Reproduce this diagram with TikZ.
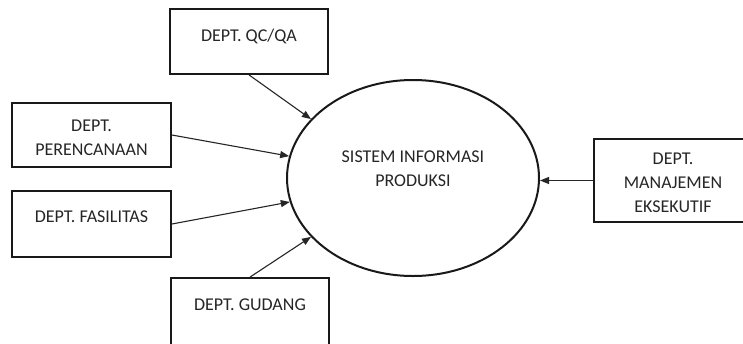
\documentclass[tikz,border=0pt]{standalone}
\usepackage{fontspec}
\setmainfont{Carlito}
\usetikzlibrary{shapes.geometric,arrows.meta}
\begin{document}
\begin{tikzpicture}[x=1pt,y=-1pt,
  dept/.style={draw=black!90,line width=1.8pt,rectangle,inner sep=0pt},
  lbl/.style={text=black!85,align=center,font=\fontsize{18}{24}\selectfont,inner sep=0pt},
  flow/.style={draw=black!85,line width=1.1pt,-{Triangle[length=9pt,width=7pt]}}]
\useasboundingbox (0,0) rectangle (743,343);
\clip (0,0) rectangle (743,343);
\fill[white] (0,0) rectangle (743,343);

% central process
\node[draw=black!90,line width=2pt,ellipse,minimum width=252pt,minimum height=196pt,inner sep=0pt] (sys) at (413,178) {};
\node[lbl] (systxt) at (413,169) {SISTEM INFORMASI\\PRODUKSI};

% external entities
\node[dept,minimum width=158pt,minimum height=65pt] (qc) at (249,41.5) {};
\node[lbl] (qctxt) at (249,36) {DEPT. QC/QA};

\node[dept,minimum width=159pt,minimum height=64pt] (per) at (91.5,135) {};
\node[lbl] (pertxt) at (91.5,138) {DEPT.\\PERENCANAAN};

\node[dept,minimum width=159pt,minimum height=66pt] (fas) at (91.5,224) {};
\node[lbl] (fastxt) at (91.5,217) {DEPT. FASILITAS};

\node[dept,minimum width=158pt,minimum height=70pt] (gud) at (250,313) {};
\node[lbl] (gudtxt) at (250,305) {DEPT. GUDANG};

\node[dept,minimum width=158pt,minimum height=83pt] (man) at (673,180.5) {};
\node[lbl] (mantxt) at (673,183) {DEPT.\\MANAJEMEN\\EKSEKUTIF};

% data flows
\draw[flow] (qc.south) -- (sys.150);
\draw[flow] (per.east) -- (sys.170);
\draw[flow] (fas.east) -- (sys.191);
\draw[flow] (gud.north) -- (sys.210);
\draw[flow] (man.west) -- (man.west -| sys.east);
\end{tikzpicture}
\end{document}
